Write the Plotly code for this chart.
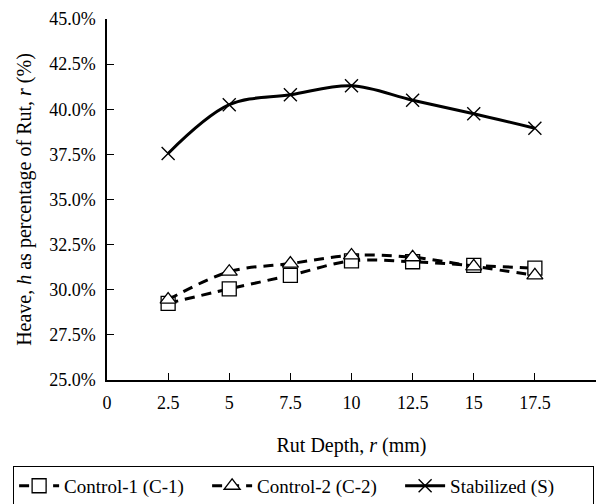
import plotly.graph_objects as go

# Rut depth (mm) and heave as percentage of rut (%)
rut_depth = [2.5, 5, 7.5, 10, 12.5, 15, 17.5]
control_1 = [29.25, 30.05, 30.8, 31.6, 31.55, 31.35, 31.2]
control_2 = [29.45, 31.0, 31.45, 31.9, 31.8, 31.3, 30.8]
stabilized = [37.55, 40.25, 40.8, 41.3, 40.5, 39.75, 38.95]

x_ticks = [0, 2.5, 5, 7.5, 10, 12.5, 15, 17.5, 20]
y_ticks = [25.0, 27.5, 30.0, 32.5, 35.0, 37.5, 40.0, 42.5, 45.0]

FONT = "Liberation Serif, Times New Roman, serif"
tick_font = dict(family=FONT, size=18, color="black")
title_font = dict(family=FONT, size=20, color="black")

fig = go.Figure()
fig.add_trace(go.Scatter(
    x=rut_depth, y=control_1, name="Control-1 (C-1)",
    mode="lines+markers", line=dict(color="black", width=3, dash="10px,7px", shape="spline"),
    marker=dict(symbol="square", size=14, color="white", line=dict(color="black", width=1.3)),
))
fig.add_trace(go.Scatter(
    x=rut_depth, y=control_2, name="Control-2 (C-2)",
    mode="lines+markers", line=dict(color="black", width=3, dash="10px,7px", shape="spline"),
    marker=dict(symbol="triangle-up", size=14, color="white", line=dict(color="black", width=1.3)),
))
fig.add_trace(go.Scatter(
    x=rut_depth, y=stabilized, name="Stabilized (S)",
    mode="lines+markers", line=dict(color="black", width=3, shape="spline"),
    marker=dict(symbol="x-thin-open", size=13, color="black", line=dict(color="black", width=1.4)),
))

fig.update_layout(
    width=602, height=504,
    margin=dict(l=107, r=6, t=19, b=124, autoexpand=False),
    paper_bgcolor="white", plot_bgcolor="white",
    font=dict(family=FONT, size=18, color="black"),
    showlegend=True,
    legend=dict(
        orientation="h", x=-0.192, xanchor="left", y=-0.238, yanchor="top",
        bordercolor="black", borderwidth=1, font=dict(family=FONT, size=19, color="black"),
        itemwidth=40, tracegroupgap=0, entrywidth=138, entrywidthmode="pixels",
    ),
)
fig.update_xaxes(
    range=[0, 20], tickvals=x_ticks, ticktext=[f"{v:g}" for v in x_ticks],
    tickfont=tick_font,
    showline=True, linecolor="black", linewidth=1.5, ticks="inside", ticklen=7,
    tickcolor="black", showgrid=False, zeroline=False, ticklabelstandoff=6,
    title=dict(text="Rut Depth, <i>r</i> (mm)", font=title_font, standoff=26),
)
fig.update_yaxes(
    range=[25, 45], tickvals=y_ticks, ticktext=[f"{v:.1f}%" for v in y_ticks],
    tickfont=tick_font,
    showline=True, linecolor="black", linewidth=1.5, ticks="inside", ticklen=7,
    tickcolor="black", showgrid=False, zeroline=False, ticklabelstandoff=6,
    title=dict(text="Heave, <i>h</i> as percentage of Rut, <i>r</i> (%)", font=title_font, standoff=12),
)

fig.write_html("out.html")
